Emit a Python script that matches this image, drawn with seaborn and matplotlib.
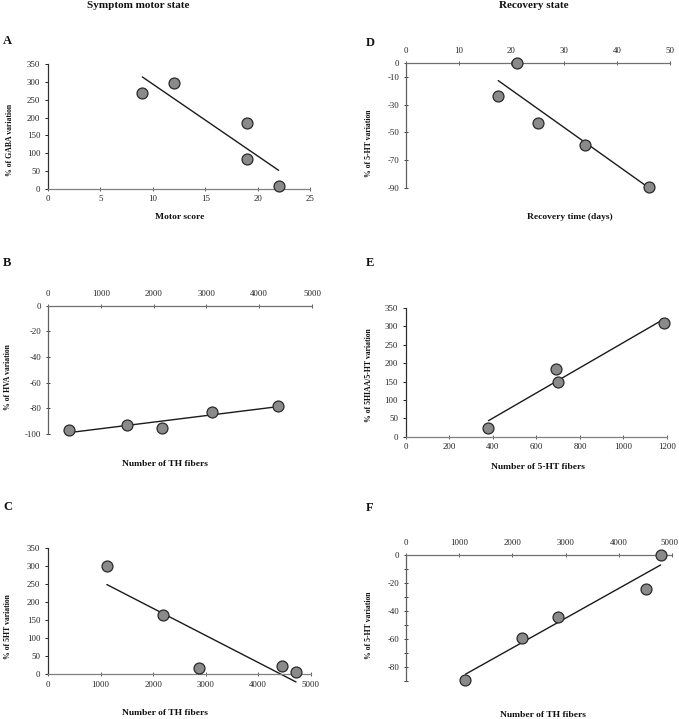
import numpy as np
import pandas as pd
import seaborn as sns
import matplotlib
matplotlib.use("Agg")
import matplotlib.pyplot as plt
from matplotlib.transforms import ScaledTranslation

sns.set_theme(style="white")
plt.rcParams['font.family'] = ['Liberation Serif', 'DejaVu Serif']
plt.rcParams['axes.unicode_minus'] = False

# ---- data ----
a_x = [9, 12, 19, 19, 22]
a_y = [270, 297, 185, 85, 8]
b_x = [400, 1500, 2150, 3100, 4350]
b_y = [-97, -93, -95, -83, -78]
c_x = [1120, 2180, 2870, 4450, 4720]
c_y = [300, 165, 18, 23, 6]
d_x = [17.5, 21, 25, 34, 46]
d_y = [-24, 0, -43, -59, -89]
e_x = [380, 690, 700, 1185]
e_y = [25, 183, 150, 308]
f_x = [1120, 2180, 2860, 4500, 4780]
f_y = [-89, -59, -44, -24, 0]

col_titles = ["Symptom motor state", "Recovery state"]
panel_letters = ["A", "B", "C", "D", "E", "F"]
x_labels = ["Motor score", "Number of TH fibers", "Number of TH fibers",
            "Recovery time (days)", "Number of 5-HT fibers", "Number of TH fibers"]
y_labels = ["% of GABA variation", "% of HVA variation", "% of 5HT variation",
            "% of 5-HT variation", "% of 5HIAA/5-HT variation", "% of 5-HT variation"]

a_xticks = [0, 5, 10, 15, 20, 25]; a_yticks = [0, 50, 100, 150, 200, 250, 300, 350]
b_xticks = [0, 1000, 2000, 3000, 4000, 5000]; b_yticks = [0, -20, -40, -60, -80, -100]
c_xticks = [0, 1000, 2000, 3000, 4000, 5000]; c_yticks = [0, 50, 100, 150, 200, 250, 300, 350]
d_xticks = [0, 10, 20, 30, 40, 50]; d_yticks = [0, -10, -30, -50, -70, -90]
e_xticks = [0, 200, 400, 600, 800, 1000, 1200]; e_yticks = [0, 50, 100, 150, 200, 250, 300, 350]
f_xticks = [0, 1000, 2000, 3000, 4000, 5000]; f_yticks = [0, -20, -40, -60, -80]
f_yminor = [-10, -30, -50, -70, -90]

W, H = 679, 719
fig = plt.figure(figsize=(W / 100, H / 100), dpi=100)

def frac(l, r, t, b):
    return [l / W, 1 - b / H, (r - l) / W, (b - t) / H]

panels = [
    dict(x=a_x, y=a_y, xt=a_xticks, yt=a_yticks, xlim=(0, 25), ylim=(0, 350), top=False,
         box=(48, 310, 64, 189), letter=(3, 41), xl=(180, 217), yl=(10, 140)),
    dict(x=b_x, y=b_y, xt=b_xticks, yt=b_yticks, xlim=(0, 5000), ylim=(-100, 0), top=True,
         box=(48, 312, 305.7, 434), letter=(3, 263), xl=(165, 464), yl=(8, 377)),
    dict(x=c_x, y=c_y, xt=c_xticks, yt=c_yticks, xlim=(0, 5000), ylim=(0, 350), top=False,
         box=(48, 310.7, 547.7, 674.3), letter=(3, 507), xl=(165, 713), yl=(8, 627)),
    dict(x=d_x, y=d_y, xt=d_xticks, yt=d_yticks, xlim=(0, 50), ylim=(-90, 0), top=True,
         box=(405.7, 670, 63, 188), letter=(366, 43), xl=(570, 217), yl=(369, 143)),
    dict(x=e_x, y=e_y, xt=e_xticks, yt=e_yticks, xlim=(0, 1200), ylim=(0, 350), top=False,
         box=(405.7, 667, 308, 436.7), letter=(366, 263), xl=(538, 467), yl=(369, 375)),
    dict(x=f_x, y=f_y, xt=f_xticks, yt=f_yticks, xlim=(0, 5000), ylim=(-90, 0), top=True,
         box=(405.7, 672.4, 555, 681), letter=(366, 508), xl=(543, 715), yl=(369, 625)),
]

for i, p in enumerate(panels):
    ax = fig.add_axes(frac(*p['box']))
    df = pd.DataFrame({'x': p['x'], 'y': p['y']})
    sns.regplot(data=df, x='x', y='y', ax=ax, scatter=False, ci=None, truncate=True,
                line_kws=dict(color='#1a1a1a', lw=1.0, clip_on=False))
    sns.scatterplot(data=df, x='x', y='y', ax=ax, s=62, color='#8a8a8a',
                    edgecolor='#2a2a2a', linewidth=0.9, clip_on=False, zorder=5)
    ax.set_xlim(*p['xlim'])
    ax.set_ylim(*p['ylim'])
    ax.set_xticks(p['xt'])
    ax.set_yticks(p['yt'])
    ax.set_xlabel('')
    ax.set_ylabel('')
    ax.set_facecolor('none')
    ax.spines['right'].set_visible(False)
    for s in ax.spines.values():
        s.set_linewidth(0.9)
    ax.spines['left'].set_color('#303030')
    if p['top']:
        ax.spines['bottom'].set_visible(False)
        ax.spines['top'].set_color('#707070')
        ax.spines['left'].set_color('#606060')
        ax.xaxis.set_ticks_position('top')
        ax.tick_params(axis='x', direction='inout', length=3, width=0.7, color='#606060', pad=4)
        ax.tick_params(axis='y', direction='inout', length=3.5, width=0.7, color='#404040', pad=3)
    else:
        ax.spines['top'].set_visible(False)
        ax.spines['bottom'].set_color('#808080')
        ax.xaxis.set_ticks_position('bottom')
        ax.tick_params(axis='x', direction='inout', length=3, width=0.7, color='#606060', pad=3)
        ax.tick_params(axis='y', direction='out', length=2.5, width=0.7, color='#202020', pad=3)
    ax.yaxis.set_ticks_position('left')
    ax.tick_params(labelsize=6.3, labelcolor='#222222')
    if i == 5:
        ax.set_yticks(f_yminor, minor=True)
        ax.tick_params(axis='y', which='minor', direction='inout', length=3.5, width=0.7,
                       color='#404040', left=True)
        lab = ax.get_xticklabels()[-1]
        lab.set_transform(lab.get_transform() + ScaledTranslation(-3 / 100, 0, fig.dpi_scale_trans))
    fig.text(p['letter'][0] / W, 1 - p['letter'][1] / H, panel_letters[i], ha='left', va='center',
             fontsize=9, fontweight='bold', color='#111111')
    fig.text(p['xl'][0] / W, 1 - p['xl'][1] / H, x_labels[i], ha='center', va='center',
             fontsize=6.8, fontweight='bold', color='#111111')
    fig.text(p['yl'][0] / W, 1 - p['yl'][1] / H, y_labels[i], ha='center', va='center',
             rotation=90, fontsize=5.6, fontweight='bold', color='#111111')

fig.text(138 / W, 1 - 6 / H, col_titles[0], ha='center', va='center',
         fontsize=8, fontweight='bold', color='#111111')
fig.text(534 / W, 1 - 6 / H, col_titles[1], ha='center', va='center',
         fontsize=8, fontweight='bold', color='#111111')

fig.savefig('out.png', dpi=100, facecolor='white')
